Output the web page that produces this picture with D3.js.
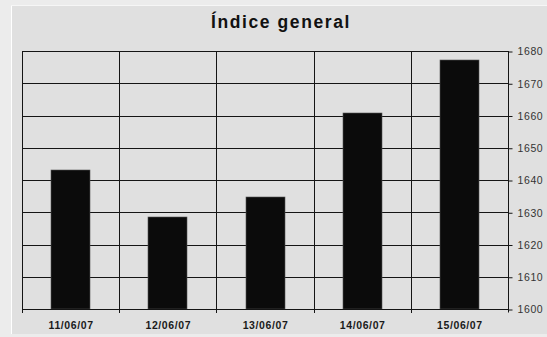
<!DOCTYPE html>
<html>
<head>
<meta charset="utf-8">
<script src="https://cdn.jsdelivr.net/npm/d3@7"></script>
<style>
  html, body { margin: 0; padding: 0; background: #ececec; }
  svg { display: block; }
</style>
</head>
<body>
<svg id="chart" width="547" height="337"></svg>
<script>
// Daily closing values of the general index
const dates = ["11/06/07", "12/06/07", "13/06/07", "14/06/07", "15/06/07"];
const values = [1643.1, 1628.5, 1634.7, 1660.8, 1677.2];
const yTicks = [1600, 1610, 1620, 1630, 1640, 1650, 1660, 1670, 1680];
const title = "Índice general";

const svg = d3.select("#chart");
const W = 547, H = 337;
const plot = { left: 22, right: 508, top: 51, bottom: 309 };

// Panel behind the chart with a light bevel on top and left
svg.append("rect").attr("x", 0).attr("y", 0).attr("width", W).attr("height", H).attr("fill", "#ececec");
svg.append("rect").attr("x", 11).attr("y", 5).attr("width", W - 11).attr("height", 329).attr("fill", "#e0e0e0");
svg.append("line").attr("x1", 11.5).attr("x2", 11.5).attr("y1", 5).attr("y2", 334).attr("stroke", "#ffffff").attr("stroke-width", 1);
svg.append("line").attr("x1", 11).attr("x2", W).attr("y1", 5.5).attr("y2", 5.5).attr("stroke", "#f6f6f6").attr("stroke-width", 1);

const x = d3.scaleBand().domain(dates).range([plot.left, plot.right]).padding(0);
const y = d3.scaleLinear().domain([1600, 1680]).range([plot.bottom, plot.top]);

const crisp = v => Math.round(v) + 0.5;
const ink = "#151515";

// Horizontal gridlines
svg.append("g").selectAll("line").data(yTicks.slice(1, -1)).join("line")
  .attr("x1", plot.left).attr("x2", plot.right)
  .attr("y1", d => crisp(y(d))).attr("y2", d => crisp(y(d)))
  .attr("stroke", ink).attr("stroke-width", 1);

// Vertical gridlines at category boundaries, running down as tick marks
const bounds = dates.map(d => x(d)).concat([plot.right]);
svg.append("g").selectAll("line").data(bounds.slice(0, -1)).join("line")
  .attr("x1", d => crisp(d)).attr("x2", d => crisp(d))
  .attr("y1", plot.top).attr("y2", plot.bottom + 4)
  .attr("stroke", ink).attr("stroke-width", 1);

// Bars
const barW = x.bandwidth() * 0.4;
svg.append("g").selectAll("rect").data(values).join("rect")
  .attr("x", (d, i) => Math.round(x(dates[i]) + x.bandwidth() / 2 - barW / 2))
  .attr("y", d => Math.round(y(d)))
  .attr("width", Math.round(barW))
  .attr("height", d => plot.bottom - Math.round(y(d)))
  .attr("fill", "#0b0b0b")
  .attr("stroke", "#555").attr("stroke-width", 0.6);

// Frame: top and bottom lines
svg.append("line").attr("x1", plot.left).attr("x2", plot.right)
  .attr("y1", crisp(plot.top)).attr("y2", crisp(plot.top)).attr("stroke", ink);
svg.append("line").attr("x1", plot.left).attr("x2", plot.right)
  .attr("y1", crisp(plot.bottom)).attr("y2", crisp(plot.bottom)).attr("stroke", ink);

// Right value axis
const yAxis = d3.axisRight(y).tickValues(yTicks).tickSize(4).tickPadding(5).tickFormat(d3.format("d"));
const gy = svg.append("g").attr("transform", `translate(${crisp(plot.right)},0.5)`).call(yAxis);
gy.select(".domain").attr("stroke", ink).attr("d", `M0,${plot.top - 0.5}V${plot.bottom + 3}`);
gy.selectAll(".tick line").attr("stroke", ink);
gy.selectAll(".tick text")
  .attr("font-family", "'Liberation Sans', Arial, sans-serif")
  .attr("font-size", "10.5px").attr("fill", "#333").attr("letter-spacing", "0.6px");

// Category labels
svg.append("g").selectAll("text").data(dates).join("text")
  .attr("x", d => x(d) + x.bandwidth() / 2 + 0.5)
  .attr("y", 329)
  .attr("text-anchor", "middle")
  .attr("font-family", "'Liberation Sans', Arial, sans-serif")
  .attr("font-weight", "bold").attr("font-size", "10.5px")
  .attr("letter-spacing", "0.6px").attr("fill", "#1a1a1a")
  .text(d => d);

// Title
svg.append("text")
  .attr("x", 281).attr("y", 28)
  .attr("text-anchor", "middle")
  .attr("font-family", "'Liberation Sans', Arial, sans-serif")
  .attr("font-weight", "bold").attr("font-size", "17.5px")
  .attr("letter-spacing", "1.6px").attr("fill", "#111")
  .text(title);
</script>
</body>
</html>
